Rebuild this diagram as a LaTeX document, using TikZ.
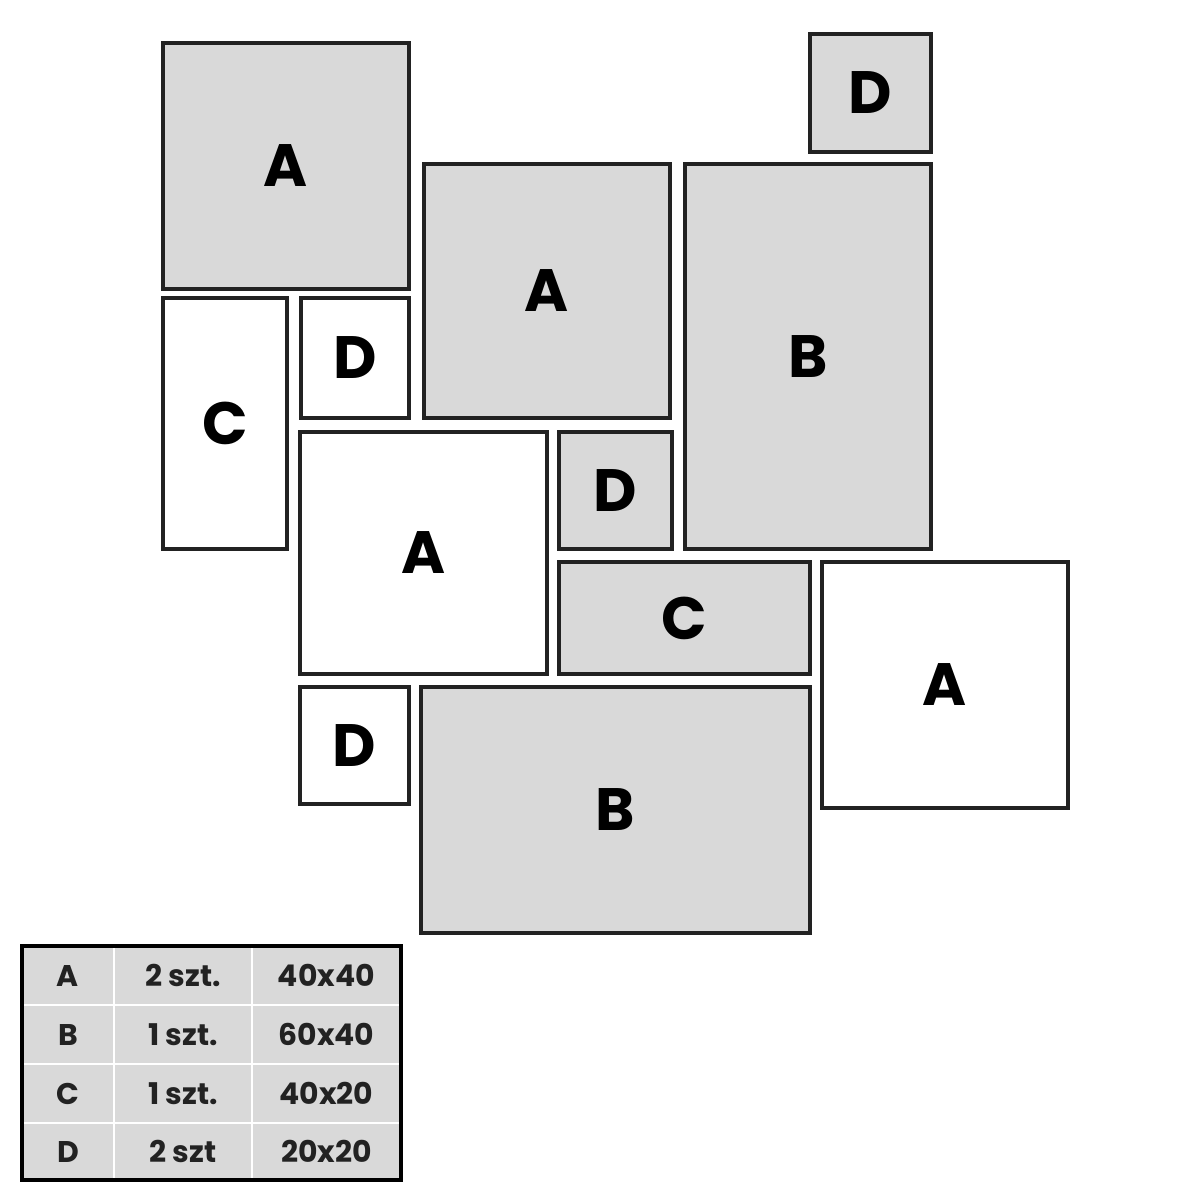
\documentclass[tikz,border=0pt]{standalone}
\usepackage{fontspec}
\setmainfont{Poppins}
\usetikzlibrary{positioning}
\definecolor{tileGray}{RGB}{217, 217, 217}
\definecolor{tileEdge}{RGB}{34, 34, 34}

\begin{document}
\begin{tikzpicture}[
  x=0.01cm, y=-0.01cm,
  tile/.style={
    draw=tileEdge,
    line width=1pt,
    inner sep=0pt,
    font=\fontsize{17}{17}\selectfont\bfseries
  },
  greytile/.style={tile,fill=tileGray},
  whitetile/.style={tile,fill=white},
  cell/.style={
    inner sep=0pt,
    font=\fontsize{8.5}{8.5}\selectfont\bfseries,
    text=tileEdge
  }
]
  \useasboundingbox (0,0) rectangle (1200,1200);
  % tiles of the layout
  \node[greytile,minimum width=2.46cm,minimum height=2.46cm] (a1) at (286,166) {A};
  \node[greytile,minimum width=1.21cm,minimum height=1.18cm] (d1) at (870.5,93) {D};
  \node[greytile,minimum width=2.46cm,minimum height=2.54cm] (a2) at (547,291) {A};
  \node[greytile,minimum width=2.46cm,minimum height=3.85cm] (b1) at (808,356.5) {B};
  \node[whitetile,minimum width=1.24cm,minimum height=2.51cm] (c1) at (225,423.5) {C};
  \node[whitetile,minimum width=1.08cm,minimum height=1.20cm] (d2) at (355,358) {D};
  \node[whitetile,minimum width=2.47cm,minimum height=2.42cm] (a3) at (423.5,553) {A};
  \node[greytile,minimum width=1.13cm,minimum height=1.17cm] (d3) at (615.5,490.5) {D};
  \node[greytile,minimum width=2.51cm,minimum height=1.12cm] (c2) at (684.5,618) {C};
  \node[whitetile,minimum width=2.46cm,minimum height=2.46cm] (a4) at (945,685) {A};
  \node[whitetile,minimum width=1.09cm,minimum height=1.17cm] (d4) at (354.5,745.5) {D};
  \node[greytile,minimum width=3.89cm,minimum height=2.46cm] (b2) at (615.5,810) {B};
  % legend table
  \fill[tileGray] (22,946) rectangle (401,1180);
  \draw[white,line width=0.6pt] (114,946) -- (114,1180) (252,946) -- (252,1180);
  \draw[white,line width=0.6pt] (22,1005) -- (401,1005) (22,1064) -- (401,1064) (22,1123) -- (401,1123);
  \draw[black,line width=1.1pt] (22,946) rectangle (401,1180);
  \node[cell] (ka) at (68,975.5) {A};
  \node[cell] (na) at (183,975.5) {2 szt.};
  \node[cell] (sa) at (326.5,975.5) {40x40};
  \node[cell] (kb) at (68,1034.5) {B};
  \node[cell] (nb) at (183,1034.5) {1 szt.};
  \node[cell] (sb) at (326.5,1034.5) {60x40};
  \node[cell] (kc) at (68,1093.5) {C};
  \node[cell] (nc) at (183,1093.5) {1 szt.};
  \node[cell] (sc) at (326.5,1093.5) {40x20};
  \node[cell] (kd) at (68,1151.5) {D};
  \node[cell] (nd) at (183,1151.5) {2 szt};
  \node[cell] (sd) at (326.5,1151.5) {20x20};
\end{tikzpicture}
\end{document}
